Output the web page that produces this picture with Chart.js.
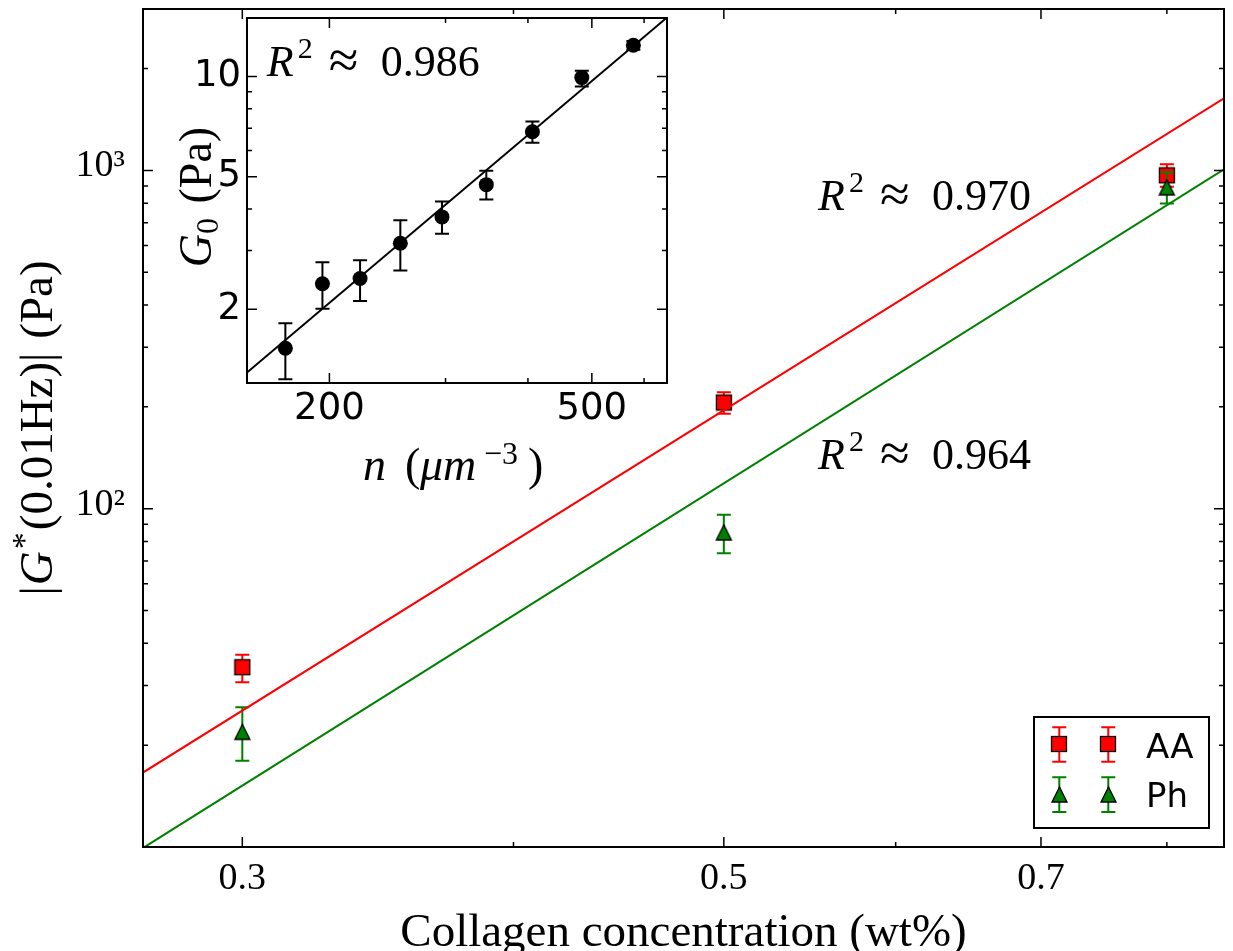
<!DOCTYPE html>
<html>
<head>
<meta charset="utf-8">
<title>|G*| vs collagen concentration</title>
<script src="https://cdn.jsdelivr.net/npm/chart.js@4.4.1/dist/chart.umd.min.js"></script>
<style>
  html, body { margin:0; padding:0; background:#ffffff; }
  #wrap { position:relative; width:1233px; height:951px; overflow:hidden; background:#fff; }
  #main { position:absolute; left:0; top:0; }
  #inset { position:absolute; left:150px; top:0; }
</style>
</head>
<body>
<div id="wrap">
  <canvas id="main" width="1233" height="951"></canvas>
  <canvas id="inset" width="550" height="510"></canvas>
</div>
<script>
// ---------------- main chart data ----------------
const concentration = [0.3, 0.5, 0.8];
const aaModulus = [34.0, 206, 967];
const aaLow     = [30.7, 191, 894];
const aaHigh    = [37.0, 221, 1042];
const phModulus = [21.9, 85.1, 891];
const phLow     = [18.0, 73.9, 799];
const phHigh    = [25.9, 96.0, 988];
const fitConcentration = [0.27, 0.85];
const aaFit = [16.6, 1632];
const phFit = [9.93, 1008];
const mainXTicks = [0.3, 0.5, 0.7];
const mainXTickLabels = ['0.3', '0.5', '0.7'];
const mainXMinorTicks = [0.3, 0.4, 0.5, 0.6, 0.7, 0.8];
const mainYTicks = [100, 1000];
const mainYTickLabels = ['10\u00B2', '10\u00B3'];
const mainYMinorTicks = [20, 30, 40, 50, 60, 70, 80, 90, 200, 300, 400, 500, 600, 700, 800, 900, 2000, 3000];
const seriesNames = ['AA', 'Ph'];
const r2Values = ['0.970', '0.964'];

// ---------------- inset data ----------------
const density = [171.5, 195.2, 222.6, 256.2, 296.3, 345.9, 406.3, 482.8, 578];
const g0      = [1.526, 2.385, 2.474, 3.157, 3.788, 4.734, 6.826, 9.93, 12.42];
const g0Low   = [1.232, 2.007, 2.115, 2.615, 3.368, 4.27, 6.33, 9.33, 12.05];
const g0High  = [1.814, 2.768, 2.807, 3.70, 4.21, 5.21, 7.33, 10.42, 12.8];
const fitDensity = [150, 650];
const g0Fit = [1.29, 15.05];
const insetXTicks = [200, 500];
const insetXTickLabels = ['200', '500'];
const insetXMinorTicks = [200, 300, 400, 500, 600];
const insetYTicks = [2, 5, 10];
const insetYTickLabels = ['2', '5', '10'];
const insetYMinorTicks = [2, 3, 4, 5, 6, 7, 8, 9, 10];
const insetR2 = '0.986';

// ---------------- helpers ----------------
const RED = '#ff0000', GREEN = '#008000';
const SERIF = '"Liberation Serif", "Times New Roman", serif';
const SANS = '"DejaVu Sans", sans-serif';

function makeSquare(side, fill) {
  const s = Math.ceil(side) + 3;
  const c = document.createElement('canvas'); c.width = s; c.height = s;
  const g = c.getContext('2d');
  const o = (s - side) / 2;
  g.fillStyle = fill; g.fillRect(o, o, side, side);
  g.strokeStyle = '#000'; g.lineWidth = 1.3; g.strokeRect(o, o, side, side);
  return c;
}
function makeTriangle(w, h, fill) {
  const W = Math.ceil(w) + 4, H = Math.ceil(h) + 4;
  const c = document.createElement('canvas'); c.width = W; c.height = H;
  const g = c.getContext('2d');
  const ox = (W - w) / 2, oy = (H - h) / 2;
  g.beginPath(); g.moveTo(W / 2, oy); g.lineTo(ox, oy + h); g.lineTo(ox + w, oy + h); g.closePath();
  g.fillStyle = fill; g.fill();
  g.strokeStyle = '#000'; g.lineWidth = 1.3; g.lineJoin = 'miter'; g.stroke();
  return c;
}
const squareImg = makeSquare(15, RED);
const triangleImg = makeTriangle(15, 15, GREEN);

const fontStr = s => `${s.style || 'normal'} ${s.size}px ${s.family || SERIF}`;
function richText(ctx, segs, x, y, o = {}) {
  ctx.save();
  ctx.translate(x, y);
  if (o.rotate) ctx.rotate(o.rotate);
  ctx.fillStyle = '#000'; ctx.textBaseline = 'alphabetic'; ctx.textAlign = 'left';
  let cx = 0; const pos = [];
  segs.forEach(s => {
    ctx.font = fontStr(s);
    const w = ctx.measureText(s.t).width;
    const px = (s.at != null) ? s.at : cx + (s.gap || 0);
    pos.push(px); cx = px + w;
  });
  const shift = o.align === 'center' ? -cx / 2 : 0;
  segs.forEach((s, i) => { ctx.font = fontStr(s); ctx.fillText(s.t, pos[i] + shift, s.dy || 0); });
  ctx.restore();
}

function logAxis(o) {
  return {
    type: 'logarithmic', position: o.position, min: o.min, max: o.max,
    grid: { display: false, drawTicks: false },
    border: { display: false },
    ticks: {
      autoSkip: false, maxRotation: 0, minRotation: 0, padding: o.padding, color: '#000',
      labelOffset: o.labelOffset || 0,
      font: o.font,
      callback: (v) => { const i = o.ticks.indexOf(v); return i >= 0 ? o.labels[i] : ''; }
    },
    afterBuildTicks: (s) => { s.ticks = o.ticks.map(v => ({ value: v })); },
    afterFit: (s) => {
      if (o.width != null) s.width = o.width;
      if (o.height != null) s.height = o.height;
      s.paddingTop = 0; s.paddingBottom = 0; s.paddingLeft = 0; s.paddingRight = 0;
    }
  };
}

function drawErrorBars(chart, eb) {
  const { ctx, scales: { x, y } } = chart;
  ctx.save();
  ctx.strokeStyle = eb.color; ctx.lineWidth = eb.width; ctx.lineCap = 'butt';
  ctx.beginPath();
  eb.x.forEach((xv, i) => {
    const px = x.getPixelForValue(xv);
    const lo = y.getPixelForValue(eb.low[i]);
    const hi = y.getPixelForValue(eb.high[i]);
    ctx.moveTo(px, lo); ctx.lineTo(px, hi);
    ctx.moveTo(px - eb.cap, lo); ctx.lineTo(px + eb.cap, lo);
    ctx.moveTo(px - eb.cap, hi); ctx.lineTo(px + eb.cap, hi);
  });
  ctx.stroke();
  ctx.restore();
}

function drawFrame(chart, cfg) {
  const { ctx, chartArea: a, scales: { x, y } } = chart;
  ctx.save();
  ctx.strokeStyle = '#000'; ctx.lineWidth = cfg.tickWidth;
  ctx.beginPath();
  const vx = (vals, len) => vals.forEach(v => {
    const p = x.getPixelForValue(v);
    ctx.moveTo(p, a.bottom); ctx.lineTo(p, a.bottom - len);
    ctx.moveTo(p, a.top); ctx.lineTo(p, a.top + len);
  });
  const vy = (vals, len) => vals.forEach(v => {
    const p = y.getPixelForValue(v);
    ctx.moveTo(a.left, p); ctx.lineTo(a.left + len, p);
    ctx.moveTo(a.right, p); ctx.lineTo(a.right - len, p);
  });
  vx(cfg.xMinor, cfg.minorLen); vx(cfg.xMajor, cfg.majorLen);
  vy(cfg.yMinor, cfg.minorLen); vy(cfg.yMajor, cfg.majorLen);
  ctx.stroke();
  ctx.lineWidth = cfg.frameWidth;
  ctx.strokeRect(a.left, a.top, a.right - a.left, a.bottom - a.top);
  ctx.restore();
}

function decorPlugin(cfg) {
  return {
    id: 'decor',
    beforeDraw(chart) {
      if (!cfg.background) return;
      const a = chart.chartArea, ctx = chart.ctx;
      ctx.save(); ctx.fillStyle = cfg.background;
      ctx.fillRect(a.left, a.top, a.right - a.left, a.bottom - a.top);
      ctx.restore();
    },
    beforeDatasetDraw(chart, args) {
      const eb = cfg.errorBars[args.index];
      if (eb) drawErrorBars(chart, eb);
    },
    afterDatasetsDraw(chart) {
      drawFrame(chart, cfg);
      if (cfg.extra) cfg.extra(chart);
    }
  };
}

function r2Segments(value, size) {
  return [
    { t: 'R', style: 'italic', size: size, at: 0 },
    { t: '2', size: Math.round(size * 0.68), dy: -18, at: 31 },
    { t: '\u2248', size: size + 10, at: 62, dy: 2 },
    { t: value, size: size, at: 114 }
  ];
}

// ---------------- main chart ----------------
const mainCfg = {
  tickWidth: 1.5, frameWidth: 2, majorLen: 10, minorLen: 5,
  xMajor: mainXTicks, xMinor: mainXMinorTicks, yMajor: mainYTicks, yMinor: mainYMinorTicks,
  errorBars: {
    0: { x: concentration, low: aaLow, high: aaHigh, color: RED, width: 2, cap: 7 },
    1: { x: concentration, low: phLow, high: phHigh, color: GREEN, width: 2, cap: 7 }
  },
  extra(chart) {
    const ctx = chart.ctx;
    // annotations
    richText(ctx, r2Segments(r2Values[0], 44), 818, 210);
    richText(ctx, r2Segments(r2Values[1], 44), 818, 469);
    // axis titles
    richText(ctx, [{ t: 'Collagen concentration (wt%)', size: 47 }], (chart.chartArea.left + chart.chartArea.right) / 2, 946, { align: 'center' });
    richText(ctx, [
      { t: '|', size: 47 },
      { t: 'G', style: 'italic', size: 47, gap: 1 },
      { t: '*', size: 34, dy: -17, gap: 2 },
      { t: '(0.01Hz)|', size: 47, gap: 2 },
      { t: ' (Pa)', size: 47, gap: 2 }
    ], 52, (chart.chartArea.top + chart.chartArea.bottom) / 2, { rotate: -Math.PI / 2, align: 'center' });
    // legend
    const L = { left: 1034, top: 717, right: 1209, bottom: 828 };
    ctx.save();
    ctx.fillStyle = '#fff'; ctx.fillRect(L.left, L.top, L.right - L.left, L.bottom - L.top);
    ctx.strokeStyle = '#000'; ctx.lineWidth = 2; ctx.strokeRect(L.left, L.top, L.right - L.left, L.bottom - L.top);
    const rows = [
      { img: squareImg, color: RED, cy: 744.3, lo: 727.3, hi: 761.7, base: 758 },
      { img: triangleImg, color: GREEN, cy: 794.8, lo: 777.3, hi: 812, base: 806.7 }
    ];
    rows.forEach((r, k) => {
      [1059.3, 1108.3].forEach(mx => {
        ctx.strokeStyle = r.color; ctx.lineWidth = 2;
        ctx.beginPath();
        ctx.moveTo(mx, r.lo); ctx.lineTo(mx, r.hi);
        ctx.moveTo(mx - 7, r.lo); ctx.lineTo(mx + 7, r.lo);
        ctx.moveTo(mx - 7, r.hi); ctx.lineTo(mx + 7, r.hi);
        ctx.stroke();
        ctx.drawImage(r.img, Math.round(mx - r.img.width / 2), Math.round(r.cy - r.img.height / 2));
      });
      ctx.fillStyle = '#000'; ctx.font = `34px ${SANS}`; ctx.textBaseline = 'alphabetic'; ctx.textAlign = 'left';
      ctx.fillText(seriesNames[k], 1146, r.base);
    });
    ctx.restore();
  }
};

new Chart(document.getElementById('main'), {
  type: 'scatter',
  data: {
    datasets: [
      { label: seriesNames[0], data: concentration.map((x, i) => ({ x, y: aaModulus[i] })),
        pointStyle: squareImg, pointRadius: 8, order: 4 },
      { label: seriesNames[1], data: concentration.map((x, i) => ({ x, y: phModulus[i] })),
        pointStyle: triangleImg, pointRadius: 8, order: 3 },
      { label: 'AA fit', data: fitConcentration.map((x, i) => ({ x, y: aaFit[i] })),
        showLine: true, borderColor: RED, borderWidth: 2, pointRadius: 0, order: 2 },
      { label: 'Ph fit', data: fitConcentration.map((x, i) => ({ x, y: phFit[i] })),
        showLine: true, borderColor: GREEN, borderWidth: 2, pointRadius: 0, order: 1 }
    ]
  },
  options: {
    responsive: false, animation: false, devicePixelRatio: 1, events: [],
    layout: { padding: { top: 7, right: 7, left: 0, bottom: 0 } },
    plugins: { legend: { display: false }, tooltip: { enabled: false } },
    scales: {
      x: logAxis({ position: 'bottom', min: 0.27, max: 0.85, ticks: mainXTicks, labels: mainXTickLabels,
                   padding: 9, height: 104, font: { family: SERIF, size: 38 } }),
      y: logAxis({ position: 'left', min: 10, max: 3000, ticks: mainYTicks, labels: mainYTickLabels,
                   padding: 18, width: 143, labelOffset: -4, font: { family: SERIF, size: 38 } })
    }
  },
  plugins: [decorPlugin(mainCfg)]
});

// ---------------- inset chart ----------------
const insetCfg = {
  background: '#ffffff',
  tickWidth: 1.5, frameWidth: 2, majorLen: 10, minorLen: 5,
  xMajor: insetXTicks, xMinor: insetXMinorTicks, yMajor: insetYTicks, yMinor: insetYMinorTicks,
  errorBars: {
    0: { x: density, low: g0Low, high: g0High, color: '#000', width: 2, cap: 7 }
  },
  extra(chart) {
    const ctx = chart.ctx;
    richText(ctx, r2Segments(insetR2, 44), 116.7, 76);
    // x title: n (μm^-3)
    richText(ctx, [
      { t: 'n', style: 'italic', size: 46, at: 0 },
      { t: '(', size: 46, at: 42 },
      { t: '\u03BCm', style: 'italic', size: 46, at: 57 },
      { t: '\u22123', size: 32, dy: -16, at: 121 },
      { t: ')', size: 46, at: 165 }
    ], 213, 480);
    // y title: G0 (Pa)
    richText(ctx, [
      { t: 'G', style: 'italic', size: 46 },
      { t: '0', size: 32, dy: 7, gap: 0 },
      { t: ' (Pa)', size: 46, gap: 3 }
    ], 61, 197, { rotate: -Math.PI / 2, align: 'center' });
  }
};

new Chart(document.getElementById('inset'), {
  type: 'scatter',
  data: {
    datasets: [
      { label: 'G0', data: density.map((x, i) => ({ x, y: g0[i] })),
        pointStyle: 'circle', pointRadius: 7.5, backgroundColor: '#000', borderColor: '#000', borderWidth: 0, order: 2 },
      { label: 'fit', data: fitDensity.map((x, i) => ({ x, y: g0Fit[i] })),
        showLine: true, borderColor: '#000', borderWidth: 2, pointRadius: 0, order: 1 }
    ]
  },
  options: {
    responsive: false, animation: false, devicePixelRatio: 1, events: [],
    layout: { padding: { top: 18, right: 33, left: 0, bottom: 0 } },
    plugins: { legend: { display: false }, tooltip: { enabled: false } },
    scales: {
      x: logAxis({ position: 'bottom', min: 150, max: 650, ticks: insetXTicks, labels: insetXTickLabels,
                   padding: 4, height: 127, font: { family: SANS, size: 37 } }),
      y: logAxis({ position: 'left', min: 1.2, max: 15, ticks: insetYTicks, labels: insetYTickLabels,
                   padding: 6, width: 97, font: { family: SANS, size: 37 } })
    }
  },
  plugins: [decorPlugin(insetCfg)]
});
</script>
</body>
</html>
